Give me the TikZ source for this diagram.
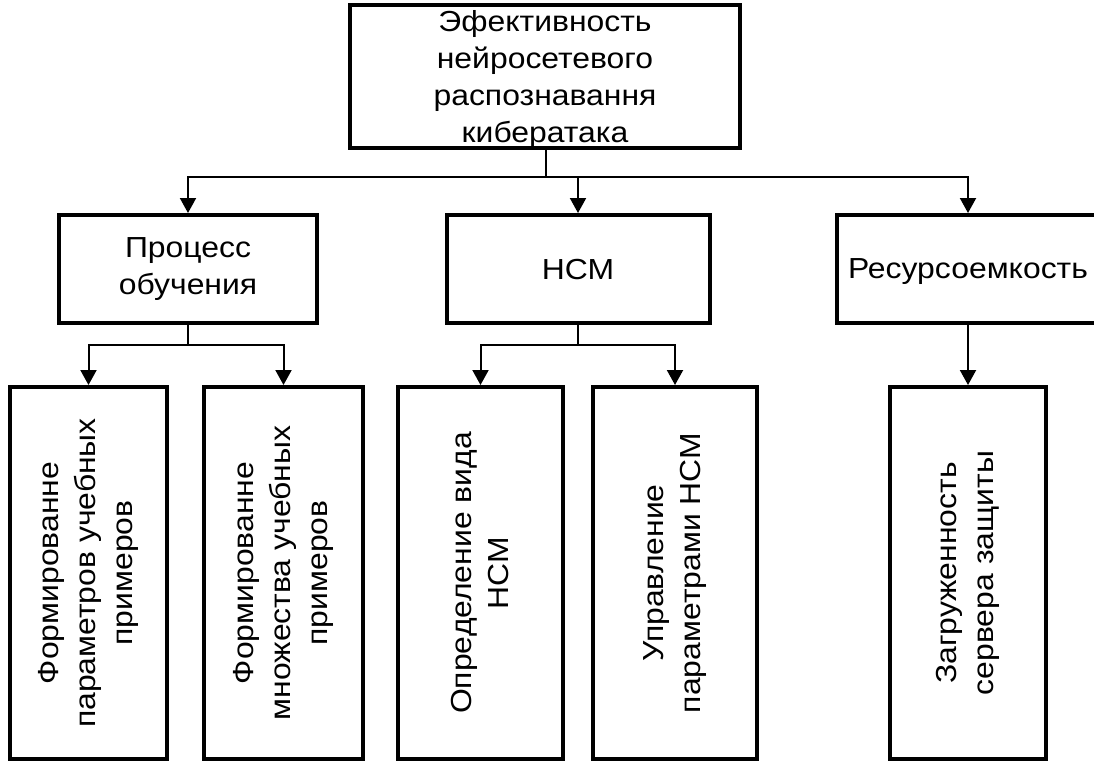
\documentclass[tikz,border=0pt]{standalone}
\usepackage{fontspec}
\setmainfont{Liberation Sans}[FakeStretch=1.1]
\usetikzlibrary{arrows.meta}
\begin{document}
\begin{tikzpicture}[
        x=1pt, y=-1pt,
        block/.style={rectangle, draw=black, line width=4pt, align=center, inner sep=0pt, font=\fontsize{29}{37}\selectfont},
        leaf/.style={block, rotate=90, minimum width=372pt},
        link/.style={draw, line width=2pt},
        arr/.style={link, -{Triangle[width=16pt,length=15pt]}}
    ]
        \useasboundingbox (0,0) rectangle (1094,762);
        \clip (0,0) rectangle (1094,762);

        \node[block, minimum width=390pt, minimum height=143pt] (eff) at (545,76.5) {};
        \node[align=center, inner sep=0pt, font=\fontsize{29}{37}\selectfont] (effText) at (545,80) {Эфективность\\нейросетевого\\распознавання\\кибератака};

        \node[block, minimum width=258pt, minimum height=108pt] (proc) at (188,269) {Процесс\\обучения};
        \node[block, minimum width=263pt, minimum height=108pt, text depth=0pt] (hcm) at (578,269) {НСМ};
        \node[block, minimum width=262pt, minimum height=108pt, text depth=0pt] (res) at (968,269) {Ресурсоемкость};

        \node[leaf, minimum height=157pt] (fpar) at (88.5,573) {Формированне\\параметров учебных\\примеров};
        \node[leaf, minimum height=159pt] (fset) at (283.5,573) {Формированне\\множества учебных\\примеров};
        \node[leaf, minimum height=165pt] (kind) at (480.5,573) {Определение вида\\НСМ};
        \node[leaf, minimum height=164pt] (ctrl) at (675,573) {Управление\\параметрами НСМ};
        \node[leaf, minimum height=156pt] (load) at (968,573) {Загруженность\\сервера защиты};

        \coordinate (busE) at (546,177);
        \coordinate (busP) at (188,345);
        \coordinate (busH) at (578,345);

        \draw[link] (eff.south -| busE) -- (busE);
        \draw[arr] (busE) -| (proc.north);
        \draw[arr] (busE) -| (res.north);
        \draw[arr] (busE -| hcm.north) -- (hcm.north);

        \draw[link] (proc.south) -- (busP);
        \draw[arr] (busP) -| (fpar.east);
        \draw[arr] (busP) -| (fset.east);

        \draw[link] (hcm.south) -- (busH);
        \draw[arr] (busH) -| (kind.east);
        \draw[arr] (busH) -| (ctrl.east);

        \draw[arr] (res.south) -- (load.east);
    \end{tikzpicture}
\end{document}
